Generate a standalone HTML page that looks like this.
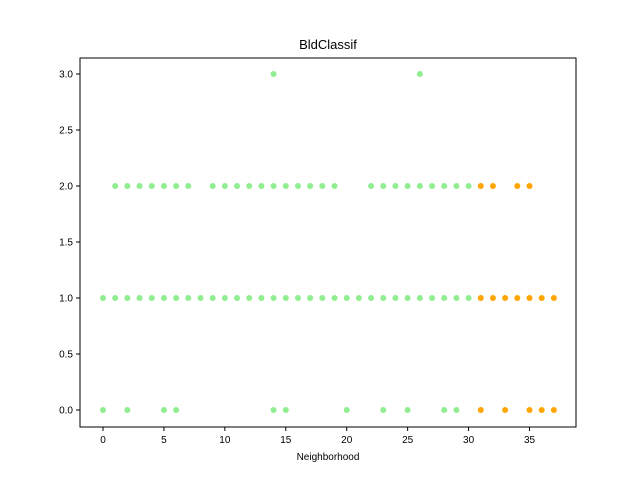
<!DOCTYPE html>
<html><head><meta charset="utf-8"><style>body{margin:0;background:#fff}svg{display:block;font-family:"Liberation Sans",sans-serif}</style></head>
<body>
<svg id="c" width="640" height="480"></svg>
<script>
const lvl3Green=[14,26];
const lvl2Green=[1,2,3,4,5,6,7,9,10,11,12,13,14,15,16,17,18,19,22,23,24,25,26,27,28,29,30];
const lvl2Orange=[31,32,34,35];
const lvl1Green=[0,1,2,3,4,5,6,7,8,9,10,11,12,13,14,15,16,17,18,19,20,21,22,23,24,25,26,27,28,29,30];
const lvl1Orange=[31,32,33,34,35,36,37];
const lvl0Green=[0,2,5,6,14,15,20,23,25,28,29];
const lvl0Orange=[31,33,35,36,37];
const xTicks=[0,5,10,15,20,25,30,35];
const yTicks=[0,0.5,1,1.5,2,2.5,3];
const L=80,R=576,T=58,B=427;
const X=v=>103+v*12.186, Y=v=>410-v*112;
const s=document.getElementById('c'),NS='http://www.w3.org/2000/svg';
function mk(t,a,p){const e=document.createElementNS(NS,t);for(const k in a)e.setAttribute(k,a[k]);(p||s).appendChild(e);return e;}
const title=mk('text',{x:328,y:49,'text-anchor':'middle','font-size':13});title.textContent='BldClassif';


const xl=mk('text',{x:328,y:460,'text-anchor':'middle','font-size':10});xl.textContent='Neighborhood';


xTicks.forEach(v=>{mk('line',{x1:X(v),x2:X(v),y1:B,y2:B+4,stroke:'#000'});const t=mk('text',{x:X(v),y:B+16,'text-anchor':'middle','font-size':10});t.textContent=v;

});
yTicks.forEach(v=>{mk('line',{x1:L-4,x2:L,y1:Y(v),y2:Y(v),stroke:'#000'});const t=mk('text',{x:L-7,y:Y(v)+3.5,'text-anchor':'end','font-size':10});t.textContent=v.toFixed(1);

});
function pts(arr,y,col){arr.forEach(v=>{const c=mk('circle',{cx:X(v),cy:Y(y),r:3,fill:col});

});}
pts(lvl3Green,3,'#90ee90');pts(lvl2Green,2,'#90ee90');pts(lvl2Orange,2,'#ffa500');
pts(lvl1Green,1,'#90ee90');pts(lvl1Orange,1,'#ffa500');pts(lvl0Green,0,'#90ee90');pts(lvl0Orange,0,'#ffa500');
const f=mk('rect',{x:L,y:T,width:R-L,height:B-T,fill:'none',stroke:'#000','stroke-width':1});


</script>
</body></html>
